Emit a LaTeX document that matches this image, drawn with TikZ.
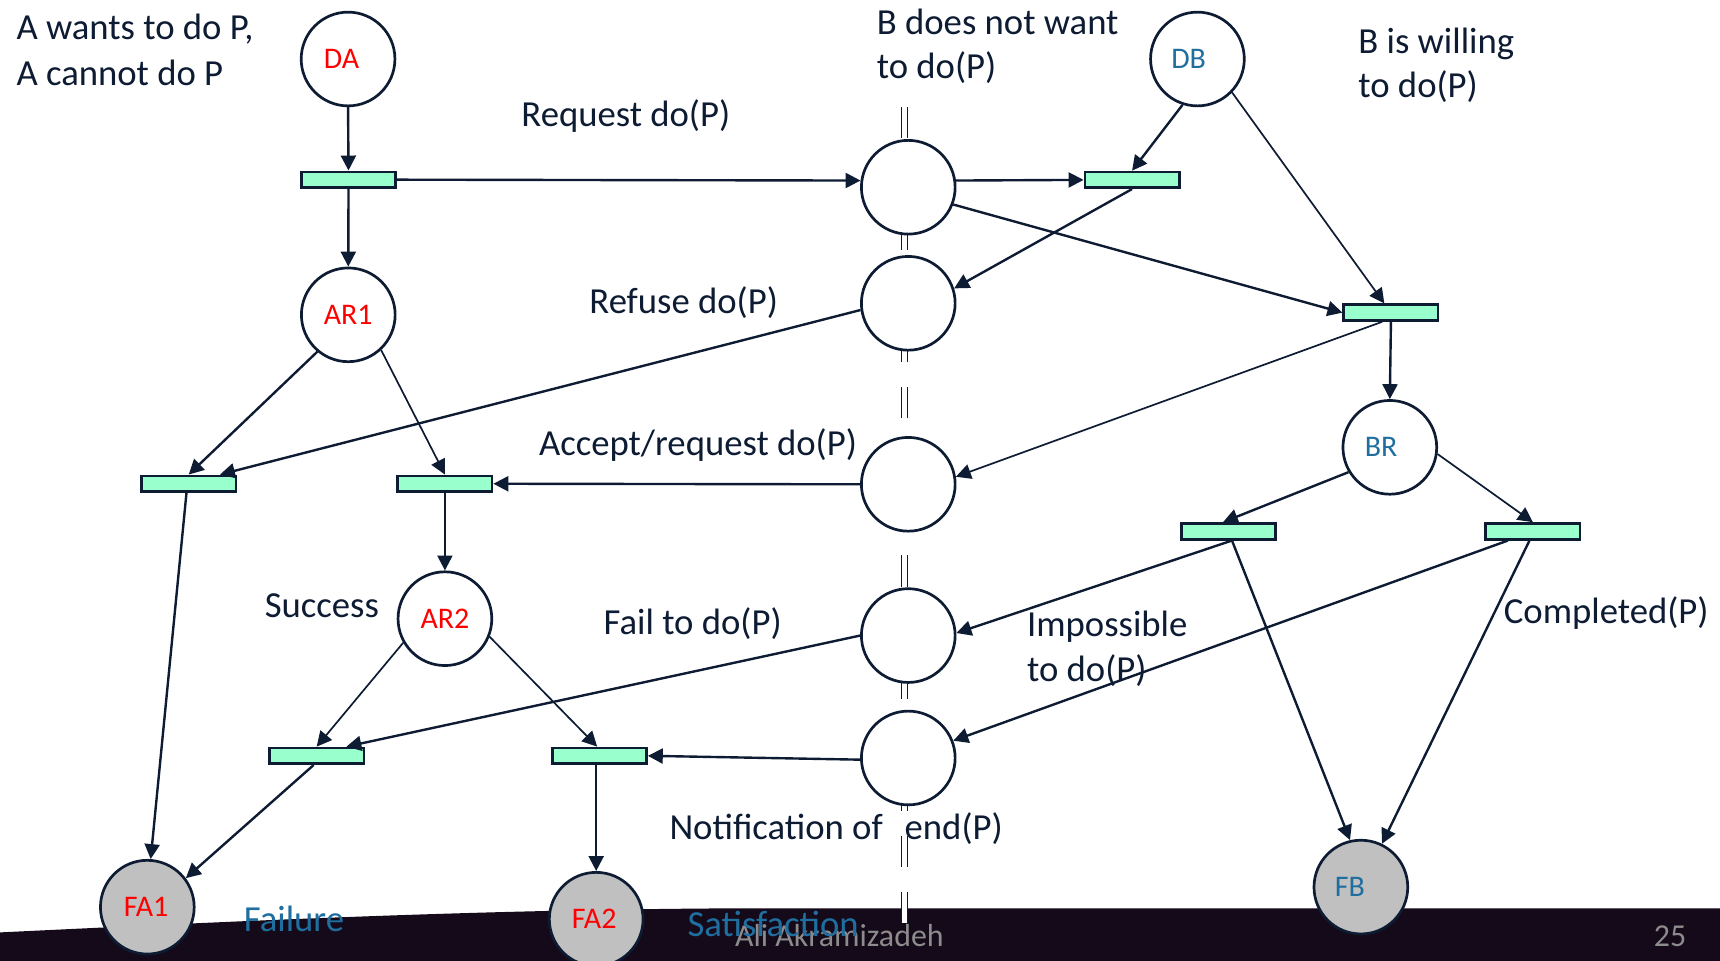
\documentclass[tikz,border=0pt]{standalone}
\usepackage{fontspec}
\setmainfont{Carlito}
\usetikzlibrary{arrows.meta,calc}

\definecolor{ink}{RGB}{13,27,51}
\definecolor{mint}{RGB}{153,255,204}
\definecolor{token}{RGB}{192,192,192}
\definecolor{agentA}{RGB}{255,0,0}
\definecolor{agentB}{RGB}{31,110,160}
\definecolor{band}{RGB}{20,10,26}
\definecolor{footer}{RGB}{140,140,140}

\begin{document}
\begin{tikzpicture}[x=0.55pt,y=-0.55pt,
  place/.style={circle, draw=ink, line width=1.35pt, fill=white,
    minimum size=47pt, inner sep=0pt},
  final/.style={place, fill=token},
  trans/.style={rectangle, draw=ink, line width=1.3pt, fill=mint,
    minimum width=47.3pt, minimum height=7.9pt, inner sep=0pt},
  flow/.style={draw=ink, line width=1.2pt, -{Triangle[length=7.5pt,width=7.5pt]}},
  flowthin/.style={flow, line width=0.85pt},
  txt/.style={anchor=base west, inner sep=0pt, text=ink,
    font=\fontsize{18.4}{22}\selectfont},
  foot/.style={anchor=base west, inner sep=0pt, text=footer,
    font=\fontsize{16}{19}\selectfont},
  lbl/.style={inner sep=0pt, font=\fontsize{15}{18}\selectfont},
  alab/.style={lbl, text=agentA},
  blab/.style={lbl, text=agentB}]

\useasboundingbox (0,0) rectangle (1568,876);
\clip (0,0) rectangle (1568,876);
\fill[white] (0,0) rectangle (1568,876);

% dark footer band of the slide
\fill[band] (0,850) .. controls (250,838) and (450,829) .. (680,828)
  -- (1568,828) -- (1568,876) -- (0,876) -- cycle;

% footer texts
\node[foot] (author) at (669.7,862.6) {Ali Akramizadeh};
\node[foot] (page) at (1507.4,862.4) {25};

% channel between the two agents
\coordinate (chanTop) at (824.5,97.6);
\coordinate (chanBot) at (824.5,841);
\draw[ink, line width=0.55pt, double=white, double distance=2.3pt,
  dash pattern=on 15.6pt off 12.5pt] (chanTop) -- (chanBot);

% places
\node[place, label={[alab, xshift=-3.3pt]center:DA}] (DA) at (317.3,53.8) {};
\node[place, label={[alab]center:AR1}] (AR1) at (317.5,287) {};
\node[place, label={[alab]center:AR2}] (AR2) at (405.6,564) {};
\node[final, label={[alab, xshift=-0.6pt]center:FA1}] (FA1) at (134.3,827) {};
\node[final, label={[alab, xshift=-1pt]center:FA2}] (FA2) at (543.5,838) {};
\node[place, label={[blab, xshift=-4.4pt]center:DB}] (DB) at (1091.6,53.8) {};
\node[place, label={[blab, xshift=-4.4pt]center:BR}] (BR) at (1267,407.8) {};
\node[final, label={[blab, xshift=-5.5pt]center:FB}] (FB) at (1240.6,808.7) {};

\node[place] (P1) at (828,170.7) {};
\node[place] (P2) at (828,276.5) {};
\node[place] (P3) at (828,441.5) {};
\node[place] (P4) at (828,579.4) {};
\node[place] (P5) at (828,691) {};

% transitions
\node[trans] (T1) at (317.7,163.8) {};
\node[trans] (TDB) at (1032,164) {};
\node[trans] (TBW) at (1268,285) {};
\node[trans] (TAa) at (172,441) {};
\node[trans] (TAb) at (405.6,441) {};
\node[trans] (TCa) at (288.7,689) {};
\node[trans] (TCb) at (546.4,689) {};
\node[trans] (TB1) at (1120,484.4) {};
\node[trans] (TB2) at (1397.4,484.4) {};

% texts
\node[txt] (tA1) at (14.7,35.8) {A wants to do P,};
\node[txt] (tA2) at (14.7,77.5) {A cannot do P};
\node[txt] (tReq) at (475,115.5) {Request do(P)};
\node[txt] (tB1) at (799,31.3) {B does not want};
\node[txt] (tB2) at (799,72) {to do(P)};
\node[txt] (tW1) at (1238,48.6) {B is willing};
\node[txt] (tW2) at (1238,88.7) {to do(P)};
\node[txt] (tRef) at (537,285.5) {Refuse do(P)};
\node[txt] (tAcc) at (491,415) {Accept/request do(P)};
\node[txt] (tSuc) at (241,562.7) {Success};
\node[txt] (tFail) at (550,578) {Fail to do(P)};
\node[txt] (tImp1) at (936,580.5) {Impossible};
\node[txt] (tImp2) at (936,621) {to do(P)};
\node[txt] (tComp) at (1370.6,568) {Completed(P)};
\node[txt] (tNot) at (610,765.7) {Notification of\hspace{11pt}end(P)};
\node[txt, text=agentB] (tFailure) at (222,849) {Failure};
\node[txt, text=agentB] (tSat) at (626.4,854) {Satisfaction};

% arcs of agent A
\draw[flow] (DA.south) -- (T1.north);
\draw[flow] (T1.south) -- (AR1.north);
\draw[flow] (T1.east) -- (P1.172);
\draw[flow] (AR1.-130) -- (TAa.north);
\draw[flowthin] (AR1.-47) -- (TAb.north);
\draw[flow] (P2.188) -- ([xshift=15.7pt]TAa.north);
\draw[flow] (P3.west) -- (TAb.east);
\draw[flow] (TAb.south) -- (AR2.north);
\draw[flow] ([xshift=-1.1pt]TAa.south) -- (FA1.86);
\draw[flowthin] (AR2.-150) -- (TCa.north);
\draw[flowthin] (AR2.-22) -- ([xshift=-1.1pt]TCb.north);
\draw[flow] (P4.west) -- ([xshift=14.9pt]TCa.north);
\draw[flow] (P5.182) -- (TCb.east);
\draw[flow] ([xshift=-1.5pt]TCa.south) -- (FA1.37);
\draw[flow] (TCb.south -| FA2.north) -- (FA2.north);

% arcs of agent B
\draw[flow] (P1.8) -- (TDB.west);
\draw[flow] (DB.-108) -- (TDB.north);
\draw[flow] (TDB.south) -- (P2.18);
\draw[flow] (P1.-21) -- (TBW.west);
\draw[flowthin] (DB.-44) -- ([xshift=-3.3pt]TBW.north);
\draw[flow] (TBW.south) -- (BR.north);
\draw[flowthin] ([xshift=-4.4pt]TBW.south) -- (P3.9);
\draw[flow] (BR.-149) -- ([xshift=-2.8pt]TB1.north);
\draw[flowthin] (BR.-8) -- (TB2.north);
\draw[flow] ([xshift=1.7pt]TB1.south) -- (P4.3);
\draw[flow] ([xshift=1.7pt]TB1.south) -- (FB.103);
\draw[flow] ([xshift=-12.5pt]TB2.south) -- (P5.21);
\draw[flow] ([xshift=-1.7pt]TB2.south) -- (FB.64);

\end{tikzpicture}
\end{document}
